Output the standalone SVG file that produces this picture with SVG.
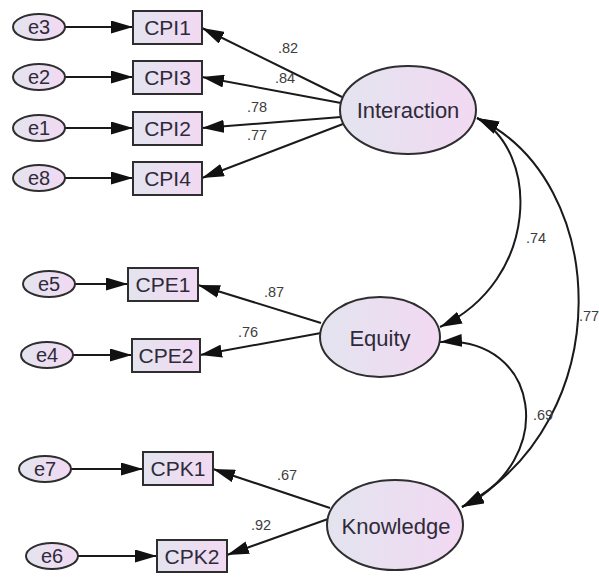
<svg xmlns="http://www.w3.org/2000/svg" width="599" height="577" viewBox="0 0 599 577">
<defs>
<linearGradient id="g" x1="0" y1="0" x2="1" y2="0">
<stop offset="0" stop-color="#e3e4ef"/>
<stop offset="1" stop-color="#f2d9f2"/>
</linearGradient>
<marker id="ah" markerUnits="userSpaceOnUse" markerWidth="22" markerHeight="13" refX="22" refY="6.5" orient="auto-start-reverse" viewBox="0 0 22 13">
<path d="M0,0 L22,6.5 L0,13 z" fill="#111"/>
</marker>
<style>
.n{fill:url(#g);stroke:#2e2e2e;stroke-width:2}
.t{font-family:"Liberation Sans",Arial,sans-serif;fill:#2f2a3a;text-anchor:middle;dominant-baseline:central}
.e{font-size:20px}
.o{font-size:21px}
.l{font-size:22px}
.c{fill:none;stroke:#1a1a1a;stroke-width:2}
.a{marker-end:url(#ah)}
.d{marker-start:url(#ah);marker-end:url(#ah)}
.w{font-family:"Liberation Sans",Arial,sans-serif;font-size:14.5px;fill:#3d3d3d}
</style>
</defs>
<g id="connectors">
<line class="c a" x1="65" y1="27" x2="133" y2="27"/>
<line class="c a" x1="65" y1="77" x2="133" y2="77"/>
<line class="c a" x1="65" y1="128" x2="133" y2="128"/>
<line class="c a" x1="65" y1="178" x2="133" y2="178"/>
<line class="c a" x1="75" y1="284" x2="128" y2="284"/>
<line class="c a" x1="73" y1="355" x2="132" y2="355"/>
<line class="c a" x1="71" y1="469" x2="143" y2="469"/>
<line class="c a" x1="78" y1="556" x2="157" y2="556"/>
<line class="c a" x1="342" y1="97" x2="202" y2="28"/>
<line class="c a" x1="341" y1="103" x2="202" y2="77"/>
<line class="c a" x1="341" y1="117" x2="202" y2="128"/>
<line class="c a" x1="343" y1="124" x2="202" y2="178"/>
<line class="c a" x1="321" y1="323" x2="198" y2="285"/>
<line class="c a" x1="321" y1="333" x2="200" y2="355"/>
<line class="c a" x1="330" y1="508" x2="213" y2="469"/>
<line class="c a" x1="328" y1="519" x2="227" y2="555"/>
<path class="c d" d="M477,118 C540,150 540,280 440,327"/>
<path class="c d" d="M477,118 C610,180 620,420 462,507"/>
<path class="c d" d="M440,342 C540,335 560,460 462,507"/>
<text class="w" x="278" y="53">.82</text>
<text class="w" x="275" y="83">.84</text>
<text class="w" x="247" y="112">.78</text>
<text class="w" x="247" y="140">.77</text>
<text class="w" x="264" y="297">.87</text>
<text class="w" x="238" y="337">.76</text>
<text class="w" x="277" y="480">.67</text>
<text class="w" x="251" y="530">.92</text>
<text class="w" x="526" y="243">.74</text>
<text class="w" x="579" y="321">.77</text>
<text class="w" x="533" y="420">.69</text>
</g>
<g id="e3"><ellipse class="n" cx="39" cy="27" rx="26" ry="13"/><text class="t e" x="39" y="27">e3</text></g>
<g id="e2"><ellipse class="n" cx="39" cy="77" rx="26" ry="13"/><text class="t e" x="39" y="77">e2</text></g>
<g id="e1"><ellipse class="n" cx="39" cy="128" rx="26" ry="13"/><text class="t e" x="39" y="128">e1</text></g>
<g id="e8"><ellipse class="n" cx="39" cy="178" rx="26" ry="13"/><text class="t e" x="39" y="178">e8</text></g>
<g id="e5"><ellipse class="n" cx="49" cy="284" rx="26" ry="13"/><text class="t e" x="49" y="284">e5</text></g>
<g id="e4"><ellipse class="n" cx="47" cy="355" rx="26" ry="13"/><text class="t e" x="47" y="355">e4</text></g>
<g id="e7"><ellipse class="n" cx="45" cy="469" rx="26" ry="13"/><text class="t e" x="45" y="469">e7</text></g>
<g id="e6"><ellipse class="n" cx="52" cy="556" rx="26" ry="13"/><text class="t e" x="52" y="556">e6</text></g>
<g id="CPI1"><rect class="n" x="133" y="11" width="69" height="33"/><text class="t o" x="167.5" y="27.5">CPI1</text></g>
<g id="CPI3"><rect class="n" x="133" y="61" width="69" height="33"/><text class="t o" x="167.5" y="77.5">CPI3</text></g>
<g id="CPI2"><rect class="n" x="133" y="112" width="69" height="33"/><text class="t o" x="167.5" y="128.5">CPI2</text></g>
<g id="CPI4"><rect class="n" x="133" y="162" width="69" height="33"/><text class="t o" x="167.5" y="178.5">CPI4</text></g>
<g id="CPE1"><rect class="n" x="128" y="268" width="70" height="33"/><text class="t o" x="163" y="284.5">CPE1</text></g>
<g id="CPE2"><rect class="n" x="132" y="339" width="68" height="33"/><text class="t o" x="166" y="355.5">CPE2</text></g>
<g id="CPK1"><rect class="n" x="143" y="452" width="70" height="33"/><text class="t o" x="178" y="468.5">CPK1</text></g>
<g id="CPK2"><rect class="n" x="157" y="540" width="70" height="32"/><text class="t o" x="192" y="556">CPK2</text></g>
<g id="Interaction"><ellipse class="n" cx="408" cy="110" rx="68" ry="44"/><text class="t l" x="408" y="110">Interaction</text></g>
<g id="Equity"><ellipse class="n" cx="380" cy="337" rx="60" ry="40"/><text class="t l" x="380" y="338">Equity</text></g>
<g id="Knowledge"><ellipse class="n" cx="395" cy="525" rx="68" ry="45"/><text class="t l" x="396" y="526">Knowledge</text></g>
</svg>
